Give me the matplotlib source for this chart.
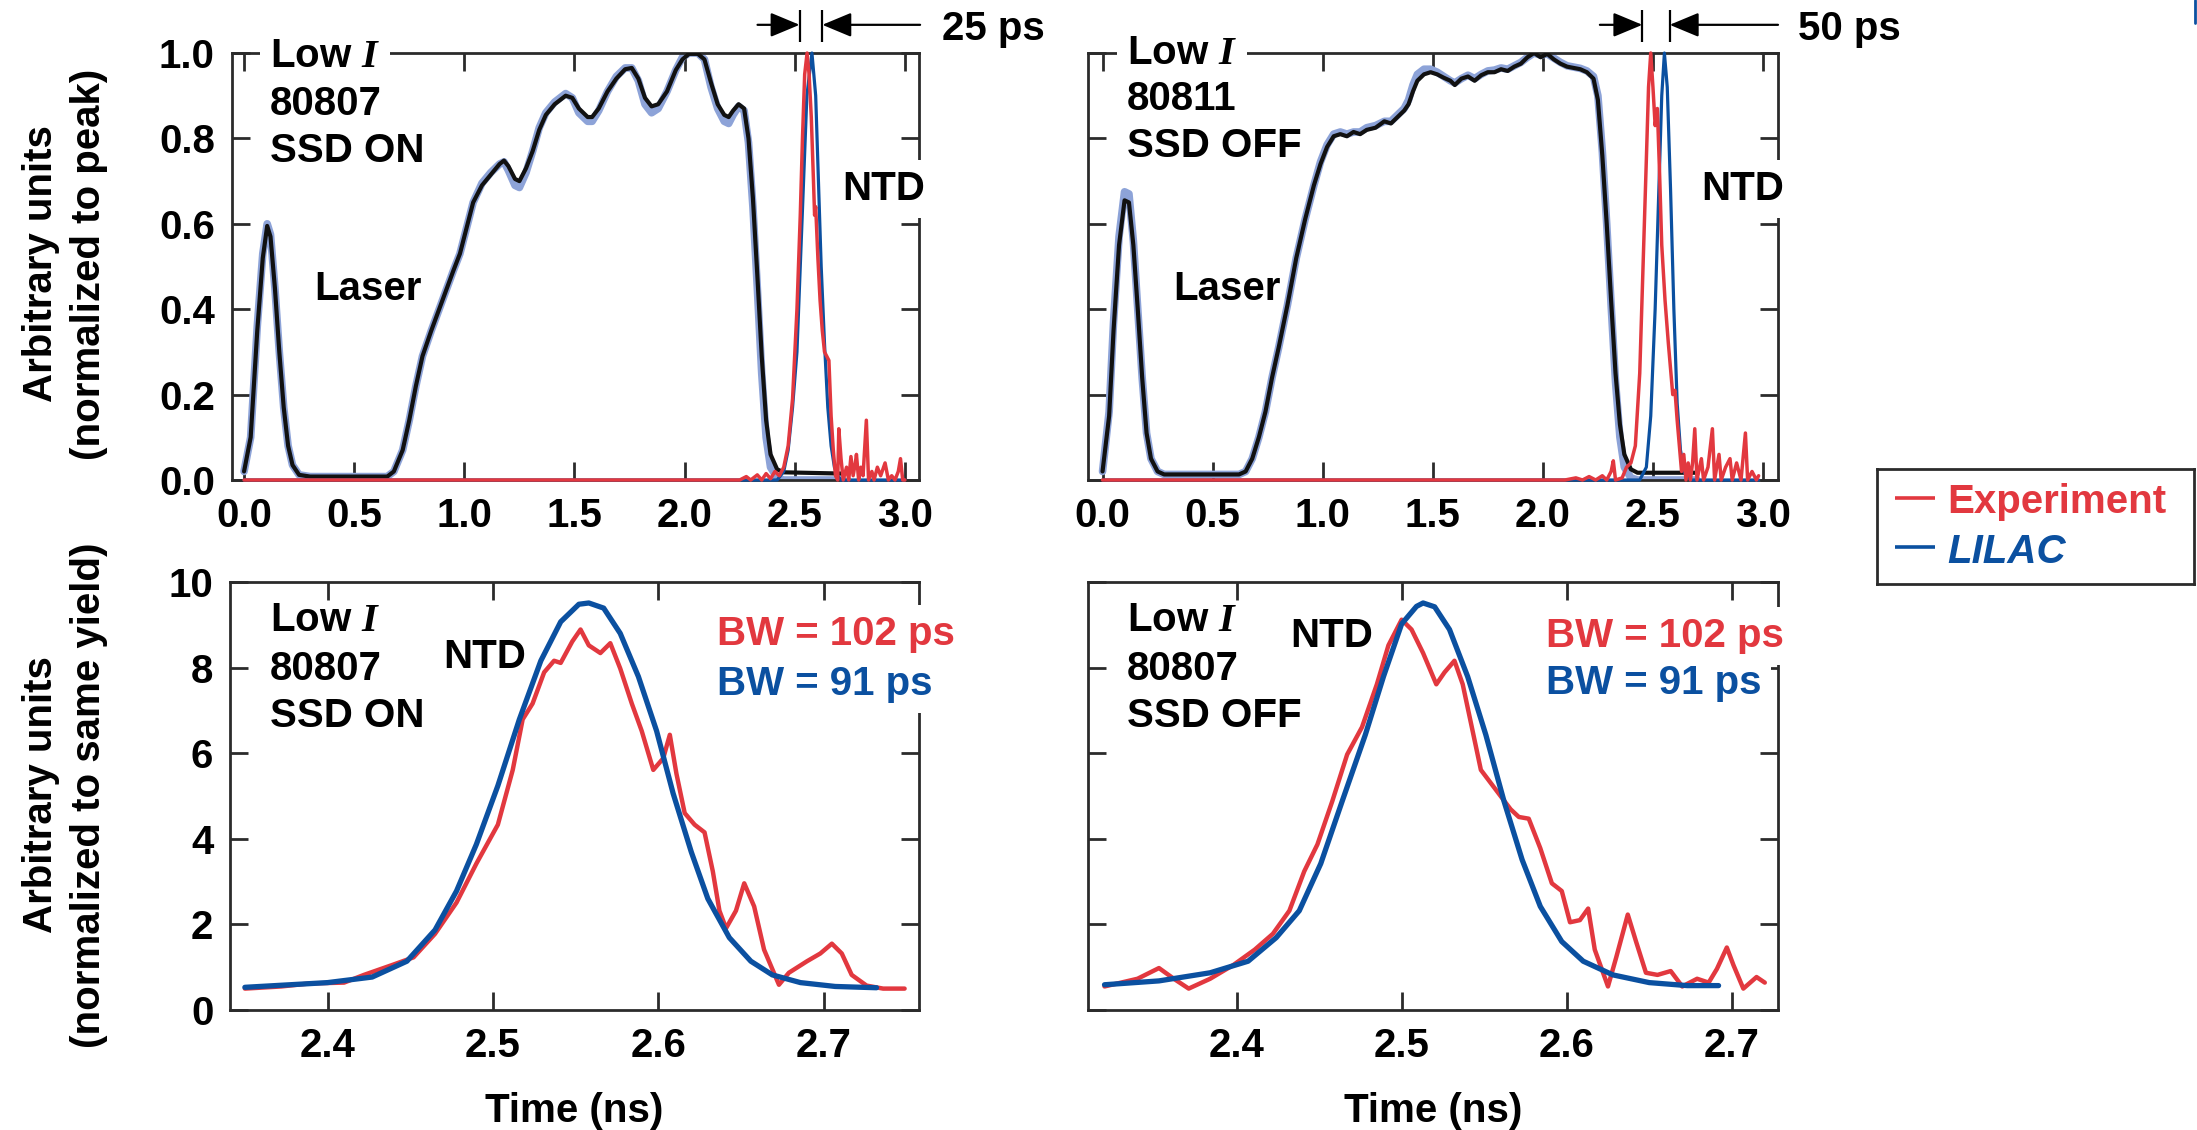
import matplotlib
matplotlib.use("Agg")
import matplotlib.pyplot as plt
from matplotlib.lines import Line2D
from matplotlib.ticker import FormatStrFormatter

plt.rcParams['font.family'] = ['Liberation Sans', 'DejaVu Sans']
plt.rcParams['font.weight'] = 'bold'
plt.rcParams['mathtext.fontset'] = 'custom'
plt.rcParams['mathtext.it'] = 'Liberation Serif:italic'
plt.rcParams['mathtext.rm'] = 'Liberation Sans:bold'
plt.rcParams['lines.solid_joinstyle'] = 'round'
plt.rcParams['lines.solid_capstyle'] = 'round'

# ---------------- data ----------------
# Shot 80807, SSD ON: laser pulse (measured / simulated) and NTD traces, normalized to peak
laser_on_t = [0.00, 0.03, 0.06, 0.085, 0.105, 0.12, 0.14, 0.16, 0.18, 0.20, 0.22, 0.25, 0.30,
              0.65, 0.68, 0.72, 0.75, 0.78, 0.81, 0.85, 0.90, 0.95, 0.98, 1.01, 1.04, 1.08,
              1.12, 1.16, 1.18, 1.20, 1.23, 1.25, 1.28, 1.31, 1.34, 1.37, 1.41, 1.46, 1.49,
              1.52, 1.56, 1.58, 1.61, 1.65, 1.69, 1.73, 1.76, 1.79, 1.82, 1.85, 1.88, 1.92,
              1.96, 1.99, 2.02, 2.06, 2.09, 2.12, 2.15, 2.18, 2.20, 2.22, 2.245, 2.27, 2.29,
              2.31, 2.33, 2.35, 2.37, 2.39, 2.42, 2.45, 2.72]
laser_on_meas = [0.02, 0.10, 0.35, 0.52, 0.595, 0.57, 0.45, 0.30, 0.17, 0.08, 0.035, 0.012, 0.008,
                 0.008, 0.02, 0.07, 0.14, 0.22, 0.29, 0.35, 0.42, 0.49, 0.53, 0.59, 0.65, 0.69,
                 0.715, 0.74, 0.748, 0.735, 0.705, 0.70, 0.73, 0.77, 0.82, 0.855, 0.88, 0.90, 0.895,
                 0.87, 0.85, 0.85, 0.87, 0.91, 0.94, 0.962, 0.965, 0.94, 0.895, 0.875, 0.88, 0.91,
                 0.96, 0.985, 0.998, 0.998, 0.985, 0.93, 0.88, 0.855, 0.85, 0.865, 0.88, 0.87, 0.80,
                 0.66, 0.48, 0.29, 0.14, 0.06, 0.025, 0.018, 0.015]
laser_on_sim = [0.02, 0.10, 0.36, 0.53, 0.60, 0.575, 0.45, 0.30, 0.17, 0.08, 0.035, 0.012, 0.008,
                0.008, 0.02, 0.07, 0.14, 0.22, 0.29, 0.35, 0.42, 0.49, 0.53, 0.59, 0.65, 0.695,
                0.72, 0.74, 0.745, 0.725, 0.69, 0.685, 0.72, 0.77, 0.825, 0.86, 0.885, 0.905, 0.895,
                0.86, 0.84, 0.84, 0.865, 0.91, 0.945, 0.965, 0.965, 0.935, 0.88, 0.86, 0.87, 0.91,
                0.96, 0.99, 1.0, 1.0, 0.985, 0.92, 0.87, 0.84, 0.835, 0.855, 0.875, 0.865, 0.79,
                0.64, 0.45, 0.25, 0.10, 0.03, 0.005, 0.0, 0.0]

ntd_on_exp_t = [0.00, 2.25, 2.28, 2.30, 2.33, 2.35, 2.37, 2.39, 2.41, 2.43, 2.45, 2.47, 2.49,
                2.51, 2.525, 2.535, 2.545, 2.556, 2.565, 2.575, 2.585, 2.59, 2.595, 2.605, 2.615,
                2.625, 2.635, 2.645, 2.655, 2.665, 2.675, 2.685, 2.695, 2.70, 2.71, 2.72, 2.735,
                2.745, 2.755, 2.765, 2.775, 2.78, 2.79, 2.80, 2.81, 2.825, 2.835, 2.85, 2.86,
                2.875, 2.89, 2.91, 2.925, 2.94, 2.955, 2.97, 2.98, 2.99, 3.00]
ntd_on_exp = [0.0, 0.0, 0.008, 0.0, 0.012, 0.0, 0.015, 0.003, 0.02, 0.01, 0.03, 0.08, 0.19,
              0.40, 0.62, 0.80, 0.95, 1.0, 0.95, 0.85, 0.70, 0.62, 0.64, 0.52, 0.42,
              0.35, 0.30, 0.29, 0.28, 0.15, 0.07, 0.01, 0.0, 0.12, 0.05, 0.0, 0.03,
              0.0, 0.055, 0.01, 0.04, 0.06, 0.0, 0.03, 0.01, 0.14, 0.0, 0.02, 0.0,
              0.03, 0.01, 0.04, 0.0, 0.01, 0.0, 0.02, 0.05, 0.0, 0.0]
ntd_on_sim_t = [0.00, 2.42, 2.45, 2.47, 2.49, 2.51, 2.525, 2.54, 2.555, 2.578, 2.595, 2.61,
                2.62, 2.635, 2.65, 2.665, 2.68, 2.695, 2.71, 3.00]
ntd_on_sim = [0.0, 0.0, 0.02, 0.07, 0.17, 0.30, 0.50, 0.70, 0.90, 1.0, 0.90, 0.66,
              0.50, 0.32, 0.17, 0.08, 0.03, 0.01, 0.0, 0.0]

# Shot 80811, SSD OFF
laser_off_t = [0.00, 0.03, 0.05, 0.075, 0.10, 0.12, 0.14, 0.16, 0.18, 0.20, 0.22, 0.25, 0.28,
               0.62, 0.65, 0.68, 0.71, 0.74, 0.77, 0.80, 0.84, 0.88, 0.92, 0.96, 0.99, 1.02,
               1.05, 1.08, 1.11, 1.14, 1.17, 1.20, 1.24, 1.28, 1.31, 1.34, 1.37, 1.39, 1.41,
               1.43, 1.46, 1.49, 1.52, 1.55, 1.58, 1.60, 1.63, 1.66, 1.69, 1.72, 1.75, 1.78,
               1.81, 1.84, 1.87, 1.90, 1.93, 1.96, 1.99, 2.02, 2.05, 2.08, 2.11, 2.14, 2.17,
               2.20, 2.23, 2.25, 2.27, 2.29, 2.31, 2.33, 2.35, 2.37, 2.40, 2.43, 2.70]
laser_off_meas = [0.02, 0.15, 0.35, 0.55, 0.655, 0.65, 0.55, 0.40, 0.24, 0.11, 0.05, 0.02, 0.013,
                  0.013, 0.02, 0.05, 0.10, 0.16, 0.24, 0.31, 0.41, 0.52, 0.61, 0.69, 0.74, 0.78,
                  0.805, 0.81, 0.805, 0.815, 0.81, 0.82, 0.825, 0.84, 0.835, 0.85, 0.865, 0.88, 0.91,
                  0.935, 0.95, 0.955, 0.95, 0.942, 0.935, 0.925, 0.94, 0.945, 0.935, 0.948, 0.955, 0.955,
                  0.962, 0.958, 0.968, 0.975, 0.99, 1.0, 0.99, 0.998, 0.985, 0.975, 0.968, 0.965, 0.962,
                  0.955, 0.94, 0.89, 0.76, 0.60, 0.42, 0.25, 0.13, 0.06, 0.025, 0.017, 0.017]
laser_off_sim = [0.02, 0.16, 0.37, 0.57, 0.675, 0.67, 0.56, 0.40, 0.24, 0.11, 0.05, 0.02, 0.013,
                 0.013, 0.02, 0.05, 0.10, 0.16, 0.24, 0.31, 0.41, 0.52, 0.61, 0.69, 0.745, 0.785,
                 0.81, 0.815, 0.81, 0.815, 0.815, 0.825, 0.83, 0.84, 0.84, 0.855, 0.87, 0.89, 0.925,
                 0.95, 0.962, 0.962, 0.955, 0.945, 0.935, 0.93, 0.94, 0.948, 0.94, 0.95, 0.958, 0.96,
                 0.965, 0.962, 0.97, 0.978, 0.99, 1.0, 0.995, 0.998, 0.988, 0.978, 0.97, 0.967, 0.964,
                 0.958, 0.945, 0.90, 0.77, 0.60, 0.41, 0.23, 0.10, 0.03, 0.005, 0.0, 0.0]

ntd_off_exp_t = [0.00, 2.10, 2.15, 2.18, 2.21, 2.24, 2.27, 2.29, 2.31, 2.32, 2.33, 2.36, 2.38,
                 2.40, 2.42, 2.44, 2.455, 2.47, 2.48, 2.49, 2.50, 2.51, 2.52, 2.53, 2.54, 2.555,
                 2.57, 2.58, 2.59, 2.60, 2.61, 2.62, 2.63, 2.64, 2.65, 2.66, 2.67, 2.68, 2.69,
                 2.70, 2.72, 2.73, 2.75, 2.77, 2.78, 2.80, 2.81, 2.83, 2.85, 2.86, 2.88, 2.90,
                 2.92, 2.93, 2.95, 2.97, 2.98]
ntd_off_exp = [0.0, 0.0, 0.005, 0.0, 0.008, 0.0, 0.01, 0.0, 0.02, 0.045, 0.0, 0.005, 0.03,
               0.04, 0.08, 0.25, 0.50, 0.75, 0.92, 1.0, 0.92, 0.83, 0.87, 0.72, 0.55, 0.42,
               0.32, 0.26, 0.20, 0.21, 0.14, 0.08, 0.02, 0.06, 0.0, 0.04, 0.0, 0.04, 0.12,
               0.0, 0.05, 0.0, 0.03, 0.12, 0.0, 0.06, 0.0, 0.03, 0.05, 0.0, 0.04, 0.0,
               0.11, 0.0, 0.02, 0.0, 0.01]
ntd_off_sim_t = [0.00, 2.44, 2.47, 2.49, 2.51, 2.525, 2.54, 2.552, 2.565, 2.58, 2.595, 2.61,
                 2.625, 2.645, 2.67, 2.98]
ntd_off_sim = [0.0, 0.0, 0.03, 0.15, 0.40, 0.65, 0.90, 1.0, 0.92, 0.68, 0.40, 0.18,
               0.07, 0.015, 0.0, 0.0]

# NTD close-ups, normalized to the same yield
zoom_on_exp_t = [2.35, 2.372, 2.389, 2.41, 2.422, 2.439, 2.452, 2.465, 2.478, 2.49, 2.503,
                 2.512, 2.518, 2.524, 2.531, 2.537, 2.541, 2.548, 2.553, 2.558, 2.565, 2.571,
                 2.577, 2.584, 2.59, 2.597, 2.603, 2.607, 2.611, 2.616, 2.622, 2.628, 2.633,
                 2.637, 2.641, 2.647, 2.652, 2.658, 2.664, 2.673, 2.679, 2.69, 2.698, 2.705,
                 2.711, 2.717, 2.726, 2.736, 2.749]
zoom_on_exp = [0.50, 0.55, 0.62, 0.64, 0.82, 1.05, 1.23, 1.78, 2.51, 3.42, 4.33,
               5.61, 6.79, 7.16, 7.89, 8.16, 8.11, 8.61, 8.89, 8.52, 8.34, 8.57,
               7.98, 7.16, 6.52, 5.61, 5.88, 6.43, 5.52, 4.60, 4.33, 4.15, 3.24,
               2.32, 1.91, 2.32, 2.96, 2.42, 1.41, 0.59, 0.87, 1.14, 1.32, 1.55,
               1.32, 0.82, 0.57, 0.50, 0.50]
zoom_on_sim_t = [2.35, 2.40, 2.427, 2.448, 2.465, 2.478, 2.49, 2.503, 2.516, 2.529, 2.541,
                 2.552, 2.558, 2.567, 2.577, 2.588, 2.599, 2.609, 2.62, 2.63, 2.643, 2.656,
                 2.669, 2.686, 2.707, 2.732]
zoom_on_sim = [0.53, 0.64, 0.77, 1.14, 1.87, 2.78, 3.87, 5.24, 6.79, 8.16, 9.07,
               9.48, 9.51, 9.39, 8.80, 7.79, 6.52, 5.06, 3.69, 2.60, 1.69, 1.14,
               0.82, 0.64, 0.55, 0.52]

zoom_off_exp_t = [2.32, 2.34, 2.353, 2.362, 2.371, 2.384, 2.398, 2.411, 2.422, 2.432, 2.441,
                  2.449, 2.458, 2.467, 2.476, 2.485, 2.492, 2.50, 2.506, 2.513, 2.521, 2.526,
                  2.532, 2.537, 2.543, 2.548, 2.557, 2.566, 2.571, 2.577, 2.584, 2.591, 2.597,
                  2.602, 2.608, 2.613, 2.617, 2.625, 2.63, 2.637, 2.642, 2.648, 2.655, 2.663,
                  2.67, 2.679, 2.686, 2.691, 2.697, 2.701, 2.707, 2.715, 2.72]
zoom_off_exp = [0.55, 0.73, 0.98, 0.73, 0.50, 0.73, 1.05, 1.41, 1.78, 2.32, 3.24,
                3.87, 4.88, 5.97, 6.61, 7.61, 8.52, 9.12, 8.89, 8.34, 7.61, 7.89,
                8.16, 7.61, 6.52, 5.61, 5.15, 4.69, 4.51, 4.47, 3.78, 2.96, 2.78,
                2.05, 2.10, 2.37, 1.41, 0.55, 1.23, 2.23, 1.60, 0.87, 0.82, 0.91,
                0.55, 0.73, 0.64, 0.96, 1.46, 1.05, 0.50, 0.77, 0.64]
zoom_off_sim_t = [2.32, 2.353, 2.384, 2.407, 2.424, 2.438, 2.451, 2.464, 2.478, 2.489, 2.50,
                  2.509, 2.513, 2.52, 2.529, 2.54, 2.551, 2.562, 2.573, 2.584, 2.597, 2.61,
                  2.628, 2.65, 2.673, 2.692]
zoom_off_sim = [0.59, 0.68, 0.87, 1.14, 1.69, 2.32, 3.42, 4.88, 6.43, 7.79, 9.02,
                9.43, 9.51, 9.42, 8.89, 7.79, 6.43, 4.88, 3.51, 2.42, 1.60, 1.14,
                0.82, 0.64, 0.57, 0.57]

top_xticks = [0.0, 0.5, 1.0, 1.5, 2.0, 2.5, 3.0]
top_yticks = [0.0, 0.2, 0.4, 0.6, 0.8, 1.0]
bottom_xticks = [2.4, 2.5, 2.6, 2.7]
bottom_yticks = [0, 2, 4, 6, 8, 10]

# peak-separation markers (ns) and their labels
shift_on_marks = [2.522, 2.625]
shift_off_marks = [2.452, 2.576]
shift_on_label = "25 ps"
shift_off_label = "50 ps"
bw_exp_label = "BW = 102 ps"
bw_sim_label = "BW = 91 ps"

# ---------------- styling ----------------
RED = '#e2383f'
BLUE = '#0b50a0'
PALE = '#8da3d8'
INK = '#111111'
FRAME = '#2b2b2b'
FS = 29

W, H = 2197, 1130
fig = plt.figure(figsize=(W / 100, H / 100), dpi=100)


def box(l, t, r, b):
    return [l / W, 1 - b / H, (r - l) / W, (b - t) / H]


def fpos(x, y):
    return (x / W, 1 - y / H)


ax_tl = fig.add_axes(box(231.5, 53, 919, 480))
ax_tr = fig.add_axes(box(1088, 53, 1778, 480))
ax_bl = fig.add_axes(box(230, 582, 919, 1010))
ax_br = fig.add_axes(box(1088, 582, 1778, 1010))

for ax in (ax_tl, ax_tr, ax_bl, ax_br):
    for sp in ax.spines.values():
        sp.set_color(FRAME)
        sp.set_linewidth(2)
    ax.tick_params(direction='in', length=13, width=2, color=FRAME, labelcolor='black',
                   top=True, right=True, labelsize=FS, pad=12)

# top row: laser pulse + NTD
for ax, t, meas, sim, et, ev, st, sv, xlim in (
        (ax_tl, laser_on_t, laser_on_meas, laser_on_sim, ntd_on_exp_t, ntd_on_exp,
         ntd_on_sim_t, ntd_on_sim, (-0.057, 3.064)),
        (ax_tr, laser_off_t, laser_off_meas, laser_off_sim, ntd_off_exp_t, ntd_off_exp,
         ntd_off_sim_t, ntd_off_sim, (-0.066, 3.068))):
    ax.plot(t, sim, color=PALE, lw=5.5, zorder=2)
    ax.plot(t, meas, color=INK, lw=3.0, zorder=3)
    ax.plot(st, sv, color=BLUE, lw=2.3, zorder=4, clip_on=False)
    ax.plot(et, ev, color=RED, lw=2.5, zorder=5, clip_on=False)
    ax.set_xlim(*xlim)
    ax.set_ylim(0, 1.0)
    ax.set_xticks(top_xticks)
    ax.set_yticks(top_yticks)
    ax.xaxis.set_major_formatter(FormatStrFormatter('%.1f'))
    ax.yaxis.set_major_formatter(FormatStrFormatter('%.1f'))

# bottom row: NTD close-ups
for ax, et, ev, st, sv, xlim in (
        (ax_bl, zoom_on_exp_t, zoom_on_exp, zoom_on_sim_t, zoom_on_sim, (2.341, 2.7577)),
        (ax_br, zoom_off_exp_t, zoom_off_exp, zoom_off_sim_t, zoom_off_sim, (2.310, 2.728))):
    ax.plot(et, ev, color=RED, lw=3.2, zorder=3)
    ax.plot(st, sv, color=BLUE, lw=3.8, zorder=4)
    ax.set_xlim(*xlim)
    ax.set_ylim(0, 10)
    ax.set_xticks(bottom_xticks)
    ax.set_yticks(bottom_yticks)
    ax.xaxis.set_major_formatter(FormatStrFormatter('%.1f'))
    ax.yaxis.set_major_formatter(FormatStrFormatter('%d'))
    ax.set_xlabel('Time (ns)', fontsize=FS, fontweight='bold')
    ax.xaxis.set_label_coords(0.5, (1010 - 1122) / 428)
    ax.xaxis.label.set_va('baseline')

for ax in (ax_tr, ax_br):
    ax.tick_params(labelleft=False)

ax_tl.set_ylabel('Arbitrary units\n(normalized to peak)', fontsize=FS, fontweight='bold',
                 linespacing=1.35)
ax_tl.yaxis.set_label_coords((65 - 231.5) / 687.5, (480 - 264) / 427)
ax_bl.set_ylabel('Arbitrary units\n(normalized to same yield)', fontsize=FS, fontweight='bold',
                 linespacing=1.35)
ax_bl.yaxis.set_label_coords((65 - 230) / 689, (1010 - 795) / 428)
for ax in (ax_tl, ax_bl):
    ax.yaxis.label.set_va('center')

# ---------------- annotations ----------------
white = dict(facecolor='white', edgecolor='none', pad=7)


def label(x, y, s, color='black', bg=False, **kw):
    fig.text(*fpos(x, y), s, fontsize=FS, fontweight='bold', color=color, ha='left',
             va='baseline', bbox=white if bg else None, **kw)


LOW_I = r'Low $I$'
# top-left
label(270, 66.7, LOW_I, bg=True)
label(270, 115, '80807')
label(270, 161.7, 'SSD ON')
label(314, 300, 'Laser')
label(842, 200, 'NTD', bg=True)
# top-right
label(1127, 64, LOW_I, bg=True)
label(1127, 110, '80811')
label(1127, 157, 'SSD OFF')
label(1173, 300, 'Laser')
label(1701, 200, 'NTD', bg=True)
# bottom-left
label(270, 631, LOW_I)
label(270, 680, '80807')
label(270, 727, 'SSD ON')
label(443, 668, 'NTD')
label(717, 645, bw_exp_label, color=RED, bg=True)
label(717, 695, bw_sim_label, color=BLUE, bg=True)
# bottom-right
label(1127, 631, LOW_I)
label(1127, 680, '80807')
label(1127, 727, 'SSD OFF')
label(1290, 647, 'NTD')
label(1546, 647, bw_exp_label, color=RED, bg=True)
label(1546, 694, bw_sim_label, color=BLUE, bg=True)


def shift_marker(ax, marks, arrow_from, arrow_to, text_x, text):
    tr = ax.get_xaxis_transform()
    for m in marks:
        ax.plot([m, m], [1.026, 1.10], transform=tr, color='black', lw=1.6, clip_on=False,
                solid_capstyle='butt')
    y = 1.066
    for start, tip in ((arrow_from, marks[0]), (arrow_to, marks[1])):
        ax.annotate('', xy=(tip, y), xytext=(start, y), xycoords=tr, textcoords=tr,
                    annotation_clip=False,
                    arrowprops=dict(arrowstyle='-|>,head_length=18,head_width=7.5',
                                    mutation_scale=1, lw=1.6, color='black',
                                    shrinkA=0, shrinkB=0))
    ax.text(text_x, 1.0304, text, transform=tr, fontsize=FS, fontweight='bold',
            ha='left', va='baseline', clip_on=False)


shift_marker(ax_tl, shift_on_marks, 2.331, 3.069, 3.168, shift_on_label)
shift_marker(ax_tr, shift_off_marks, 2.259, 3.068, 3.157, shift_off_label)

# legend box
lg = fig.add_axes(box(1877, 469, 2194, 584))
lg.set_xlim(0, 317)
lg.set_ylim(115, 0)
lg.set_xticks([])
lg.set_yticks([])
for sp in lg.spines.values():
    sp.set_color(FRAME)
    sp.set_linewidth(2)
lg.plot([18, 58], [29, 29], color=RED, lw=2.6, solid_capstyle='butt')
lg.plot([18, 58], [78, 78], color=BLUE, lw=2.6, solid_capstyle='butt')
lg.text(70, 44, 'Experiment', color=RED, fontsize=FS, fontweight='bold', va='baseline')
lg.text(70, 94, 'LILAC', color=BLUE, fontsize=FS, fontweight='bold', fontstyle='italic',
        va='baseline')

fig.add_artist(Line2D([2195 / W, 2195 / W], [1.0, 1 - 23 / H], color=BLUE, lw=2))

fig.savefig('out.png', dpi=100)
